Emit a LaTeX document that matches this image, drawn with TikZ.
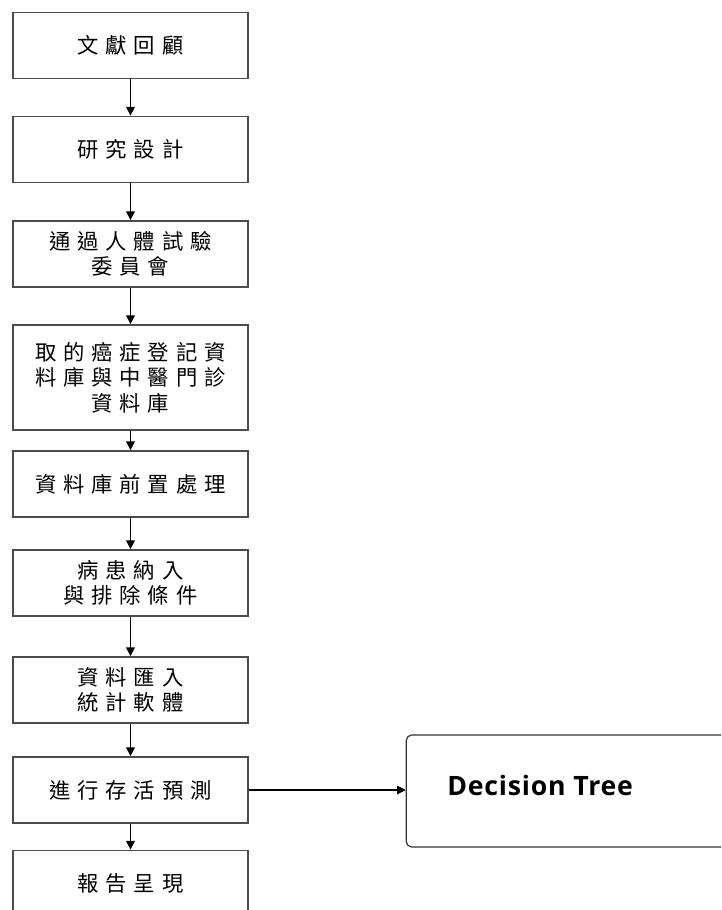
\documentclass[tikz,border=0pt]{standalone}
\usepackage{fontspec}
\newfontfamily\cjk[LetterSpace=32]{Noto Sans CJK TC}
\newfontfamily\dtfont[LetterSpace=3]{Open Sans}
\usetikzlibrary{arrows.meta}
\begin{document}
\begin{tikzpicture}[x=0.75pt,y=-0.75pt,
  stepbox/.style={draw=black!70, line width=1.3pt, inner sep=0pt,
    minimum width=176.25pt, minimum height=49.5pt, align=center,
    font=\cjk\fontsize{16}{19}\selectfont},
  tall/.style={minimum height=78.75pt},
  arr/.style={-{Triangle[length=6.5pt,width=6.5pt]}, line width=0.8pt, draw=black},
  dtbox/.style={draw=black!80, line width=0.9pt, rounded corners=4pt, inner sep=0pt,
    minimum width=265pt, minimum height=84pt},
  dtlabel/.style={font=\dtfont\bfseries\fontsize{20}{22}\selectfont, inner sep=0pt, anchor=west}
]
\useasboundingbox (0,0) rectangle (721,910);
\clip (0,0) rectangle (721,910);
\node[stepbox] (b1) at (130.5,45.5) {文獻回顧};
\node[stepbox] (b2) at (130.5,149.5) {研究設計};
\node[stepbox] (b3) at (130.5,254) {通過人體試驗\\委員會};
\node[stepbox,tall] (b4) at (130.5,377.5) {取的癌症登記資\\料庫與中醫門診\\資料庫};
\node[stepbox] (b5) at (130.5,484) {資料庫前置處理};
\node[stepbox] (b6) at (130.5,583) {病患納入\\與排除條件};
\node[stepbox] (b7) at (130.5,690) {資料匯入\\統計軟體};
\node[stepbox] (b8) at (130.5,790) {進行存活預測};
\node[stepbox] (b9) at (130.5,883.5) {報告呈現};
\node[dtbox] (dt) at (583,791) {};
\node[dtlabel] (dtl) at (447,785) {Decision Tree};
\draw[arr] (b1) -- (b2);
\draw[arr] (b2) -- (b3);
\draw[arr] (b3) -- (b4);
\draw[arr] (b4) -- (b5);
\draw[arr] (b5) -- (b6);
\draw[arr] (b6) -- (b7);
\draw[arr] (b7) -- (b8);
\draw[arr] (b8) -- (b9);
\draw[arr] (b8.east) -- (b8.east -| dt.west);
\end{tikzpicture}
\end{document}
